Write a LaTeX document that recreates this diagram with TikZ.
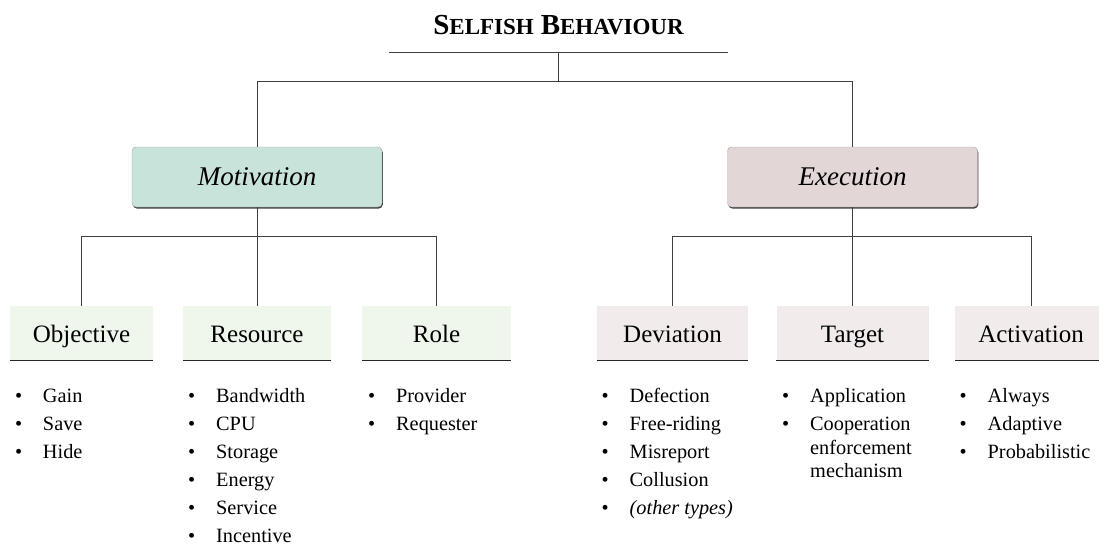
\documentclass[tikz,border=0pt]{standalone}
\usepackage{fontspec}
\setmainfont{Liberation Serif}
\usetikzlibrary{shadows}

\definecolor{linegray}{HTML}{3F3F3F}
\definecolor{motivfill}{HTML}{C8E3DA}
\definecolor{execfill}{HTML}{E3D6D6}
\definecolor{motivsub}{HTML}{EFF6EC}
\definecolor{execsub}{HTML}{F2EBEB}

% bullet with fixed indent, fake small caps for the title
\newcommand{\bul}{\makebox[28pt][l]{\textbullet}}
\newcommand{\capsc}[2]{{\fontsize{29}{32}\selectfont #1}{\fontsize{23}{26}\selectfont #2}}

\tikzset{
    conn/.style={draw=linegray, line width=1pt},
    mainbox/.style={rounded corners=4pt, draw=black!35, line width=0.4pt,
        minimum width=250pt, minimum height=60pt,
        font=\fontsize{27}{30}\selectfont\itshape, text height=20pt, text depth=4pt,
        drop shadow={shadow xshift=0.8pt, shadow yshift=-1.5pt, fill=black!75, opacity=1}},
    subbox/.style={minimum height=54.3pt, inner sep=0pt,
        font=\fontsize{25}{28}\selectfont, text height=22pt, text depth=4pt},
    underrule/.style={draw=black!85, line width=1.6pt},
    listitem/.style={anchor=base west, inner sep=0pt, font=\fontsize{20.3}{23}\selectfont}
}

\begin{document}
\begin{tikzpicture}[x=1pt, y=-1pt]
    \useasboundingbox (0,0) rectangle (1099,544);

% title
    \node[inner sep=0pt, minimum width=339pt, text depth=18pt, anchor=south, font=\bfseries]
        (title) at (558.5,52.3) {\capsc{S}{ELFISH}\hspace{7pt}\capsc{B}{EHAVIOUR}};
    \coordinate (top) at (558.5,81.7);

% first level
    \node[mainbox, fill=motivfill] (motiv) at (257,177) {Motivation};
    \node[mainbox, fill=execfill] (exec) at (852.5,177) {Execution};

% second level
    \node[subbox, fill=motivsub, minimum width=143pt] (obj) at (81.5,333) {Objective};
    \node[subbox, fill=motivsub, minimum width=148pt] (res) at (257,333) {Resource};
    \node[subbox, fill=motivsub, minimum width=149pt] (role) at (436.5,333) {Role};
    \node[subbox, fill=execsub, minimum width=151pt] (dev) at (672.5,333) {Deviation};
    \node[subbox, fill=execsub, minimum width=152pt] (tgt) at (852.5,333) {Target};
    \node[subbox, fill=execsub, minimum width=152pt] (act) at (1031,333) {Activation};
    \foreach \n in {obj,res,role,dev,tgt,act}
        \draw[underrule] (\n.south west) -- (\n.south east);

% connectors
    \draw[conn] (title.south west) -- (title.south east);
    \draw[conn] (title.south) -- (top);
    \draw[conn] (motiv.north) |- (top) -| (exec.north);
    \coordinate (mj) at (257,236.7);
    \coordinate (ej) at (852.5,236.7);
    \draw[conn] (motiv.south) -- (res.north);
    \draw[conn] (obj.north) |- (mj) -| (role.north);
    \draw[conn] (exec.south) -- (tgt.north);
    \draw[conn] (dev.north) |- (ej) -| (act.north);

% lists
    \foreach \t [count=\i from 0] in {Gain,Save,Hide}
        \node[listitem] (obj-\i) at (14.8,402.5+28*\i) {\bul\t};
    \foreach \t [count=\i from 0] in {Bandwidth,CPU,Storage,Energy,Service,Incentive}
        \node[listitem] (res-\i) at (188,402.5+28*\i) {\bul\t};
    \foreach \t [count=\i from 0] in {Provider,Requester}
        \node[listitem] (role-\i) at (368,402.5+28*\i) {\bul\t};
    \foreach \t [count=\i from 0] in {Defection,Free-riding,Misreport,Collusion,{\textit{(other types)}}}
        \node[listitem] (dev-\i) at (601.5,402.5+28*\i) {\bul\t};
    \node[listitem] (tgt-0) at (782,402.5) {\bul Application};
    \node[listitem] (tgt-1) at (782,430.5) {\bul Cooperation};
    \node[listitem] (tgt-2) at (782,454.2) {\hspace*{28pt}enforcement};
    \node[listitem] (tgt-3) at (782,477.9) {\hspace*{28pt}mechanism};
    \foreach \t [count=\i from 0] in {Always,Adaptive,Probabilistic}
        \node[listitem] (act-\i) at (959.5,402.5+28*\i) {\bul\t};
\end{tikzpicture}
\end{document}
